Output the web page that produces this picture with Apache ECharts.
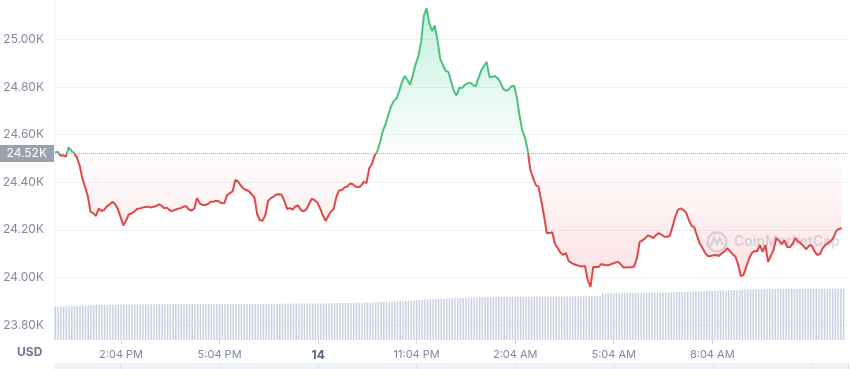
<!DOCTYPE html>
<html><head><meta charset="utf-8">
<script src="https://cdn.jsdelivr.net/npm/echarts@6/dist/echarts.min.js"></script>
<style>html,body{margin:0;padding:0;background:#fff}#c{width:850px;height:369px}</style>
</head><body><div id="c"></div>
<script>
// ---- data ----
const startMinutes = 12 * 60 + 4;   // 12:04 PM
const stepMinutes = 5;
const prices = [
24524,24528,24512,24512,24508,24546,24531,24522,24504,24470,
24417,24380,24342,24275,24270,24258,24289,24279,24283,24298,
24306,24317,24308,24287,24254,24218,24239,24264,24269,24276,
24287,24289,24293,24296,24297,24293,24297,24299,24307,24301,
24290,24293,24282,24279,24284,24288,24291,24297,24299,24285,
24281,24289,24333,24311,24304,24304,24308,24318,24318,24322,
24319,24311,24312,24346,24354,24361,24409,24403,24386,24373,
24367,24361,24349,24336,24266,24239,24239,24262,24321,24333,
24339,24348,24349,24347,24319,24287,24291,24285,24298,24302,
24283,24277,24285,24308,24330,24325,24315,24291,24262,24237,
24258,24277,24287,24338,24365,24367,24378,24382,24394,24391,
24382,24378,24384,24401,24396,24457,24476,24512,24531,24569,
24615,24644,24682,24717,24741,24751,24783,24821,24846,24829,
24808,24850,24896,24928,24989,25098,25131,25068,25035,25058,
24997,24919,24892,24867,24863,24823,24783,24764,24798,24795,
24808,24815,24818,24808,24802,24837,24869,24888,24905,24842,
24842,24846,24836,24821,24793,24784,24789,24802,24806,24759,
24682,24619,24588,24535,24451,24417,24388,24380,24321,24258,
24186,24186,24190,24140,24123,24104,24094,24102,24069,24061,
24055,24051,24048,24046,24048,23989,23960,24044,24044,24044,
24056,24052,24051,24053,24057,24062,24065,24056,24042,24042,
24043,24043,24046,24081,24149,24155,24164,24176,24172,24165,
24178,24186,24180,24171,24171,24174,24212,24254,24283,24290,
24283,24272,24241,24216,24210,24174,24142,24123,24102,24090,
24090,24093,24094,24090,24101,24108,24122,24111,24097,24088,
24056,24006,24010,24044,24077,24101,24111,24109,24136,24107,
24136,24065,24090,24115,24165,24154,24140,24155,24128,24126,
24142,24165,24150,24143,24130,24118,24134,24134,24109,24094,
24098,24123,24136,24145,24152,24168,24196,24204,24206
];
const volumes = [
33.3,33.4,33.5,33.6,33.7,33.8,33.9,34.0,34.1,34.2,
34.4,34.5,34.6,34.7,34.8,34.9,35.0,35.0,35.1,35.1,
35.2,35.2,35.3,35.3,35.4,35.4,35.5,35.5,35.5,35.6,
35.6,35.6,35.7,35.7,35.7,35.7,35.8,35.8,35.8,35.8,
35.8,35.8,35.9,35.9,35.9,35.9,35.9,35.9,36.0,36.0,
36.0,36.0,36.0,36.0,36.0,36.0,36.0,36.0,36.0,36.0,
36.0,36.0,36.0,36.0,36.0,36.1,36.1,36.1,36.1,36.1,
36.1,36.1,36.1,36.1,36.2,36.2,36.2,36.2,36.2,36.2,
36.2,36.3,36.3,36.3,36.3,36.3,36.3,36.4,36.4,36.4,
36.4,36.4,36.5,36.5,36.5,36.5,36.6,36.6,36.6,36.7,
36.7,36.7,36.8,36.8,36.9,36.9,37.0,37.0,37.1,37.1,
37.2,37.2,37.3,37.3,37.4,37.5,37.6,37.7,37.8,37.9,
38.0,38.1,38.2,38.3,38.4,38.5,38.6,38.8,39.0,39.2,
39.4,39.6,39.8,40.0,40.2,40.4,40.6,40.8,41.0,41.1,
41.2,41.3,41.4,41.5,41.6,41.7,41.8,41.9,42.0,42.1,
42.2,42.3,42.4,42.5,42.5,42.6,42.6,42.7,42.7,42.8,
42.8,42.9,42.9,43.0,43.0,43.0,43.1,43.1,43.1,43.2,
43.2,43.2,43.3,43.3,43.3,43.3,43.4,43.4,43.4,43.4,
43.5,43.5,43.5,43.5,43.5,43.6,43.6,43.6,43.6,43.6,
43.7,43.7,43.7,43.7,43.8,43.8,43.8,43.8,43.9,43.9,
46.5,46.6,46.6,46.7,46.7,46.8,46.8,46.9,46.9,47.0,
47.0,47.1,47.1,47.2,47.2,47.3,47.3,47.4,47.4,47.5,
47.5,47.6,47.6,47.7,47.7,47.8,47.8,47.9,48.0,48.1,
48.2,48.3,48.4,48.5,48.6,48.7,48.8,48.9,49.0,49.1,
49.2,49.3,49.4,49.5,49.6,49.7,49.8,49.9,50.0,50.1,
50.2,50.3,50.4,50.5,50.5,50.6,50.6,50.7,50.7,50.8,
50.8,50.8,50.9,50.9,50.9,50.9,51.0,51.0,51.0,51.0,
51.0,51.0,51.0,51.1,51.1,51.1,51.1,51.1,51.1,51.1,
51.1,51.2,51.2,51.2,51.2,51.2,51.2,51.2,51.2
];
const baseline = 24520;
const baselineLabel = '24.52K';
const xTickTimes  = ['2:04 PM', '5:04 PM', '8:04 PM', '11:04 PM', '2:04 AM', '5:04 AM', '8:04 AM'];
const xTickLabels = ['2:04 PM', '5:04 PM', '14',      '11:04 PM', '2:04 AM', '5:04 AM', '8:04 AM'];
const navTimes    = ['2:04 PM', '5:04 PM', '8:04 PM', '11:04 PM', '2:04 AM', '5:04 AM', '8:04 AM', '11:04 AM'];
const boldTick = '14';
const currency = 'USD';
const watermark = 'CoinMarketCap';

// ---- build ----
function fmtTime(m) {
  m = m % 1440;
  const h = Math.floor(m / 60), mm = m % 60;
  const ap = h >= 12 ? 'PM' : 'AM';
  let h12 = h % 12; if (h12 === 0) h12 = 12;
  return h12 + ':' + String(mm).padStart(2, '0') + ' ' + ap;
}
// the price axis runs two steps past the last sample so the grid lines reach the right edge
const axisTimes = Array.from({ length: prices.length + 2 }, (_, i) => fmtTime(startMinutes + i * stepMinutes));
const times = axisTimes.slice(0, prices.length);

const GREEN = '#4cc27e', RED = '#e04848';
const GRID_LINE = '#eff2f5', LABEL = '#808a9d';
const FONT = 'Inter, Roboto, "Noto Sans", sans-serif';

const chart = echarts.init(document.getElementById('c'), null, { renderer: 'canvas' });
const isTick = (i, v) => xTickTimes.indexOf(v) >= 0;
const isNav = (i, v) => navTimes.indexOf(v) >= 0;

const option = {
  animation: false,
  backgroundColor: '#fff',
  textStyle: { fontFamily: FONT },
  grid: [
    { left: 55, right: 2.7, top: -8.3, height: 380.9, outerBoundsMode: 'none', containLabel: false },
    { left: 54, right: 5, top: 0, height: 340, outerBoundsMode: 'none', containLabel: false },
    { left: 54, right: 2, top: 363, height: 8, outerBoundsMode: 'none', containLabel: false,
      show: true, backgroundColor: '#f1f3fb', borderWidth: 0 }
  ],
  xAxis: [
    { type: 'category', gridIndex: 0, data: axisTimes, boundaryGap: false, show: false },
    { type: 'category', gridIndex: 1, data: times, boundaryGap: true,
      axisLine: { show: false },
      axisTick: { show: true, interval: isTick, alignWithLabel: true, length: 4, lineStyle: { color: '#d5dae5' } },
      axisLabel: { interval: isTick, color: LABEL, fontSize: 11, margin: 9, fontFamily: FONT,
        formatter: v => { const l = xTickLabels[xTickTimes.indexOf(v)]; return l === boldTick ? '{b|' + l + '}' : l; },
        rich: { b: { fontWeight: 'bold', color: '#58667e', fontSize: 12, fontFamily: FONT } } },
      splitLine: { show: false } },
    { type: 'category', gridIndex: 2, data: times, boundaryGap: true,
      axisLine: { show: false }, axisTick: { show: false }, axisLabel: { show: false },
      splitLine: { show: true, interval: isNav, lineStyle: { color: '#dfe3ee', width: 1 } } }
  ],
  yAxis: [
    { type: 'value', gridIndex: 0, min: 23600, max: 25200, interval: 200,
      axisLine: { show: false }, axisTick: { show: false },
      splitLine: { show: true, lineStyle: { color: GRID_LINE, width: 1 } },
      axisLabel: { showMinLabel: false, showMaxLabel: false, color: LABEL, fontSize: 12, margin: 11, fontFamily: FONT,
        formatter: v => (v / 1000).toFixed(2) + 'K' } },
    { type: 'value', gridIndex: 1, min: 0, max: 340, show: true,
      axisLine: { show: true, lineStyle: { color: GRID_LINE } },
      axisTick: { show: false }, axisLabel: { show: false }, splitLine: { show: false } },
    { type: 'value', gridIndex: 2, show: false }
  ],
  graphic: [
    { type: 'text', left: 17, top: 346, style: { text: currency, fill: '#6f7a90', font: 'bold 12px ' + FONT } },
    { type: 'group', left: 705, top: 230, silent: true, z: 5, children: [
      { type: 'circle', shape: { cx: 11, cy: 10, r: 9.5 }, style: { fill: 'none', stroke: 'rgba(160,178,212,0.42)', lineWidth: 2.5 } },
      { type: 'polyline', shape: { points: [[5, 14], [8, 6], [11, 12], [14, 6], [17, 13]] }, style: { fill: 'none', stroke: 'rgba(160,178,212,0.42)', lineWidth: 2.2 } },
      { type: 'text', x: 28, y: 3, style: { text: watermark, fill: 'rgba(160,178,212,0.42)', font: '600 14px ' + FONT } }
    ] }
  ],
  series: [
    { type: 'bar', xAxisIndex: 1, yAxisIndex: 1, data: volumes, barCategoryGap: '45%', silent: true,
      itemStyle: { color: '#c9d0e2' }, z: 1 },
    { type: 'line', xAxisIndex: 0, yAxisIndex: 0, data: prices, symbol: 'none', showSymbol: false, z: 3,
      lineStyle: { width: 2, color: RED },
      markLine: { silent: true, symbol: 'none',
        lineStyle: { type: 'dotted', color: '#a9afbc', width: 1 },
        label: { show: true, position: 'start', formatter: baselineLabel, distance: 1,
          backgroundColor: '#9ba1ae', color: '#fff', fontSize: 12, fontFamily: FONT,
          padding: [3, 7, 2, 7], borderRadius: 1 },
        data: [{ yAxis: baseline }] } }
  ]
};
chart.setOption(option);

// colours: green above the baseline, red below; fill fades to white at the baseline
const yTop = chart.convertToPixel({ yAxisIndex: 0 }, Math.max(...prices));
const yBase = chart.convertToPixel({ yAxisIndex: 0 }, baseline);
const yBot = chart.convertToPixel({ yAxisIndex: 0 }, Math.min(...prices));
const f = (yBase - yTop) / (yBot - yTop);
const G = (stops) => new echarts.graphic.LinearGradient(0, yTop, 0, yBot, stops, true);
chart.setOption({ series: [{}, {
  lineStyle: { width: 2, color: G([
    { offset: 0, color: GREEN }, { offset: f, color: GREEN },
    { offset: f, color: RED }, { offset: 1, color: RED }]) },
  areaStyle: { origin: baseline, color: G([
    { offset: 0, color: 'rgba(22,199,132,0.36)' },
    { offset: f - 0.001, color: 'rgba(22,199,132,0.01)' },
    { offset: f, color: 'rgba(234,57,67,0.01)' },
    { offset: 1, color: 'rgba(234,57,67,0.22)' }]) }
}] });
</script></body></html>
